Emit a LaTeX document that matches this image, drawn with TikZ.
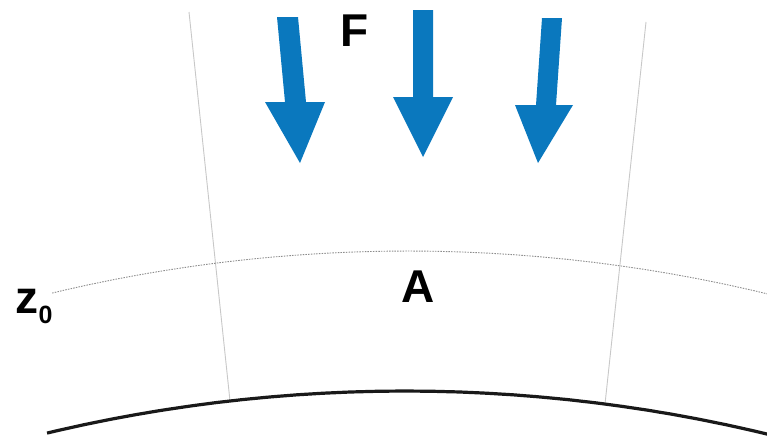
\documentclass[tikz,border=0pt]{standalone}
\usepackage{fontspec}
\setmainfont{Liberation Sans}
\begin{document}
\begin{tikzpicture}[x=1pt,y=-1pt,
  forcearrow/.style={fill={rgb,255:red,10;green,120;blue,190}, draw=none},
  guide/.style={draw={rgb,255:red,200;green,200;blue,200}, line width=0.9pt},
  level/.style={draw={rgb,255:red,140;green,140;blue,140}, line width=0.9pt, dash pattern=on 1.5pt off 1.2pt},
  ground/.style={draw=black!90, line width=3.2pt},
  lbl/.style={font=\fontsize{46}{50}\selectfont\bfseries, inner sep=0pt, anchor=base}]
\path[use as bounding box, fill=white] (0,0) rectangle (767,439);
% radial guide lines
\coordinate (l1) at (189,12);
\coordinate (l2) at (230,401);
\coordinate (r1) at (646,22);
\coordinate (r2) at (605,404);
\draw[guide] (l1) -- (l2);
\draw[guide] (r1) -- (r2);
% reference level z0 (dotted arc)
\draw[level] plot[domain=-103.45:-76.2, samples=120] ({408+1530*cos(\x)}, {1781+1530*sin(\x)});
% ground (bottom arc)
\draw[ground] plot[domain=-103.38:-76.2, samples=120] ({405+1547*cos(\x)}, {1938+1547*sin(\x)});
% force arrows
\fill[forcearrow] (277,17) -- (298,17) -- (306,102) -- (325,102) -- (300,163) -- (265,102) -- (285,102) -- cycle;
\fill[forcearrow] (413,10) -- (433,10) -- (433,97) -- (453,97) -- (423,157) -- (393,97) -- (413,97) -- cycle;
\fill[forcearrow] (542,18) -- (562,18) -- (556,105) -- (573,105) -- (538,163) -- (515,105) -- (536,105) -- cycle;
% labels
\node[lbl] (F) at (355,46) {F};
\node[lbl] (A) at (418,302) {A};
\node[lbl, anchor=base west] (z) at (15,313) {z};
\node[inner sep=0pt, anchor=base west, font=\fontsize{25}{27}\selectfont\bfseries] (z0) at (z.base east) [yshift=-10pt] {0};
\end{tikzpicture}
\end{document}
